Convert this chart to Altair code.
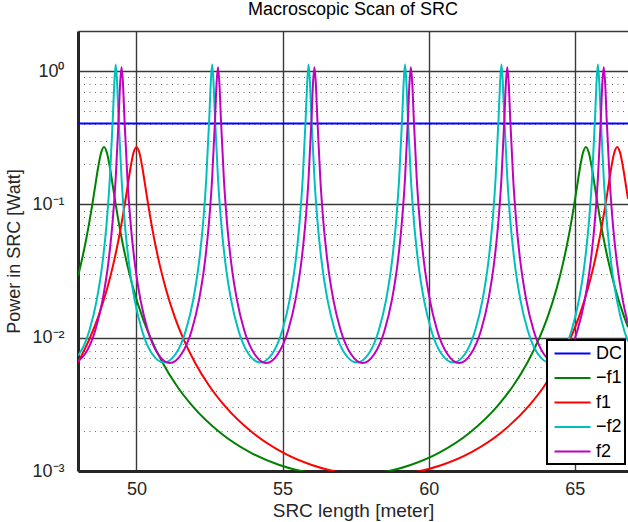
import altair as alt
import pandas as pd

# ---------------- data ----------------
series_names = ["DC", "\u2212f1", "f1", "\u2212f2", "f2"]
series_colors = ["#0000ff", "#008000", "#ff0000", "#00bfbf", "#bf00bf"]

dc_x = [48.00, 66.82]
dc_y = [0.405, 0.405]

mf1_x = [48.00, 48.09, 48.29, 48.49, 48.59, 48.69, 48.79, 48.89, 48.99, 49.09, 49.19, 49.29,
         49.49, 49.69, 49.89, 50.19, 50.49, 50.89, 51.39, 51.89, 52.89, 53.89, 54.89, 55.89,
         57.13, 58.38, 59.38, 60.38, 61.38, 62.38, 62.88, 63.38, 63.78, 64.08, 64.38, 64.58,
         64.78, 64.98, 65.08, 65.18, 65.28, 65.38, 65.48, 65.58, 65.68, 65.78, 65.98, 66.18,
         66.38, 66.68, 66.82]
mf1_y = [0.0289, 0.0349, 0.0562, 0.100, 0.138, 0.190, 0.244, 0.270, 0.244, 0.190, 0.138, 0.100,
         0.0562, 0.0349, 0.0235, 0.0145, 0.00987, 0.00651, 0.00432, 0.00312, 0.00192, 0.00138, 0.00111, 0.000973,
         0.000919, 0.000973, 0.00111, 0.00138, 0.00192, 0.00312, 0.00432, 0.00651, 0.00987, 0.0145, 0.0235, 0.0349,
         0.0562, 0.100, 0.138, 0.190, 0.244, 0.270, 0.244, 0.190, 0.138, 0.100, 0.0562, 0.0349,
         0.0235, 0.0145, 0.0120]

f1_x = [48.00, 48.40, 48.70, 49.00, 49.20, 49.40, 49.60, 49.70, 49.80, 49.90, 50.00, 50.10,
        50.20, 50.30, 50.40, 50.60, 50.80, 51.00, 51.30, 51.60, 52.00, 52.50, 53.00, 54.00,
        55.00, 56.00, 57.00, 58.22, 59.45, 60.45, 61.45, 62.45, 63.45, 63.95, 64.45, 64.85,
        65.15, 65.45, 65.65, 65.85, 66.05, 66.15, 66.25, 66.35, 66.45, 66.55, 66.65, 66.75, 66.82]
f1_y = [0.00651, 0.00987, 0.0145, 0.0235, 0.0349, 0.0562, 0.100, 0.138, 0.190, 0.244, 0.270, 0.244,
        0.190, 0.138, 0.100, 0.0562, 0.0349, 0.0235, 0.0145, 0.00987, 0.00651, 0.00432, 0.00312, 0.00192,
        0.00138, 0.00111, 0.000973, 0.000919, 0.000973, 0.00111, 0.00138, 0.00192, 0.00312, 0.00432, 0.00651, 0.00987,
        0.0145, 0.0235, 0.0349, 0.0562, 0.100, 0.138, 0.190, 0.244, 0.270, 0.244, 0.190, 0.138, 0.110]

mf2_x = [48.00,
         48.04, 48.39, 48.64, 48.84, 48.99, 49.09, 49.19, 49.24, 49.29, 49.34, 49.39, 49.49, 49.59, 49.74, 49.94, 50.19, 50.54, 50.94,
         51.34, 51.69, 51.94, 52.14, 52.29, 52.39, 52.49, 52.54, 52.59, 52.64, 52.69, 52.79, 52.89, 53.04, 53.24, 53.49, 53.84, 54.24,
         54.64, 54.99, 55.24, 55.44, 55.59, 55.69, 55.79, 55.84, 55.89, 55.94, 55.99, 56.09, 56.19, 56.34, 56.54, 56.79, 57.14, 57.54,
         57.94, 58.29, 58.54, 58.74, 58.89, 58.99, 59.09, 59.14, 59.19, 59.24, 59.29, 59.39, 59.49, 59.64, 59.84, 60.09, 60.44, 60.84,
         61.24, 61.59, 61.84, 62.04, 62.19, 62.29, 62.39, 62.44, 62.49, 62.54, 62.59, 62.69, 62.79, 62.94, 63.14, 63.39, 63.74, 64.14,
         64.54, 64.89, 65.14, 65.34, 65.49, 65.59, 65.69, 65.74, 65.79, 65.84, 65.89, 65.99, 66.09, 66.24, 66.44, 66.69, 66.82]
mf2_y = [0.00733,
         0.00754, 0.01134, 0.01912, 0.0367, 0.0768, 0.157, 0.437, 0.797, 1.12, 0.797, 0.437, 0.157, 0.0768, 0.0367, 0.01912, 0.01134, 0.00754, 0.00651,
         0.00754, 0.01134, 0.01912, 0.0367, 0.0768, 0.157, 0.437, 0.797, 1.12, 0.797, 0.437, 0.157, 0.0768, 0.0367, 0.01912, 0.01134, 0.00754, 0.00651,
         0.00754, 0.01134, 0.01912, 0.0367, 0.0768, 0.157, 0.437, 0.797, 1.12, 0.797, 0.437, 0.157, 0.0768, 0.0367, 0.01912, 0.01134, 0.00754, 0.00651,
         0.00754, 0.01134, 0.01912, 0.0367, 0.0768, 0.157, 0.437, 0.797, 1.12, 0.797, 0.437, 0.157, 0.0768, 0.0367, 0.01912, 0.01134, 0.00754, 0.00651,
         0.00754, 0.01134, 0.01912, 0.0367, 0.0768, 0.157, 0.437, 0.797, 1.12, 0.797, 0.437, 0.157, 0.0768, 0.0367, 0.01912, 0.01134, 0.00754, 0.00651,
         0.00754, 0.01134, 0.01912, 0.0367, 0.0768, 0.157, 0.437, 0.797, 1.12, 0.797, 0.437, 0.157, 0.0768, 0.0367, 0.01912, 0.01134, 0.0094]

f2_x = [48.00,
        48.24, 48.59, 48.84, 49.04, 49.19, 49.29, 49.39, 49.44, 49.49, 49.54, 49.59, 49.69, 49.79, 49.94, 50.14, 50.39, 50.74, 51.14,
        51.54, 51.89, 52.14, 52.34, 52.49, 52.59, 52.69, 52.74, 52.79, 52.84, 52.89, 52.99, 53.09, 53.24, 53.44, 53.69, 54.04, 54.44,
        54.84, 55.19, 55.44, 55.64, 55.79, 55.89, 55.99, 56.04, 56.09, 56.14, 56.19, 56.29, 56.39, 56.54, 56.74, 56.99, 57.34, 57.74,
        58.14, 58.49, 58.74, 58.94, 59.09, 59.19, 59.29, 59.34, 59.39, 59.44, 59.49, 59.59, 59.69, 59.84, 60.04, 60.29, 60.64, 61.04,
        61.44, 61.79, 62.04, 62.24, 62.39, 62.49, 62.59, 62.64, 62.69, 62.74, 62.79, 62.89, 62.99, 63.14, 63.34, 63.59, 63.94, 64.34,
        64.74, 65.09, 65.34, 65.54, 65.69, 65.79, 65.89, 65.94, 65.99, 66.04, 66.09, 66.19, 66.29, 66.44, 66.64, 66.82]
f2_y = [0.00666,
        0.00754, 0.01134, 0.01912, 0.0367, 0.0768, 0.157, 0.437, 0.797, 1.07, 0.797, 0.437, 0.157, 0.0768, 0.0367, 0.01912, 0.01134, 0.00754, 0.00645,
        0.00754, 0.01134, 0.01912, 0.0367, 0.0768, 0.157, 0.437, 0.797, 1.07, 0.797, 0.437, 0.157, 0.0768, 0.0367, 0.01912, 0.01134, 0.00754, 0.00645,
        0.00754, 0.01134, 0.01912, 0.0367, 0.0768, 0.157, 0.437, 0.797, 1.07, 0.797, 0.437, 0.157, 0.0768, 0.0367, 0.01912, 0.01134, 0.00754, 0.00645,
        0.00754, 0.01134, 0.01912, 0.0367, 0.0768, 0.157, 0.437, 0.797, 1.07, 0.797, 0.437, 0.157, 0.0768, 0.0367, 0.01912, 0.01134, 0.00754, 0.00645,
        0.00754, 0.01134, 0.01912, 0.0367, 0.0768, 0.157, 0.437, 0.797, 1.07, 0.797, 0.437, 0.157, 0.0768, 0.0367, 0.01912, 0.01134, 0.00754, 0.00645,
        0.00754, 0.01134, 0.01912, 0.0367, 0.0768, 0.157, 0.437, 0.797, 1.07, 0.797, 0.437, 0.157, 0.0768, 0.0367, 0.01912, 0.0128]

x_ticks = [50, 55, 60, 65]
y_major = [0.001, 0.01, 0.1, 1, 2]
y_minor = [0.002, 0.003, 0.004, 0.005, 0.006, 0.007, 0.008, 0.009,
           0.02, 0.03, 0.04, 0.05, 0.06, 0.07, 0.08, 0.09,
           0.2, 0.3, 0.4, 0.5, 0.6, 0.7, 0.8, 0.9]

# ---------------- table ----------------
rows = []
for name, xs, ys in zip(series_names,
                        [dc_x, mf1_x, f1_x, mf2_x, f2_x],
                        [dc_y, mf1_y, f1_y, mf2_y, f2_y]):
    for i, (xv, yv) in enumerate(zip(xs, ys)):
        rows.append({"series": name, "x": xv, "y": yv, "i": i})
df = pd.DataFrame(rows)

FONT = "Liberation Sans"
TXT = "#262626"
major_test = "datum.value == 0.001 || datum.value == 0.01 || datum.value == 0.1 || datum.value == 1 || datum.value == 2"

y_axis = alt.Axis(
    values=sorted(y_major + y_minor),
    labelExpr="datum.value == 1 ? '10\u2070' : datum.value == 0.1 ? '10\u207b\u00b9' : "
              "datum.value == 0.01 ? '10\u207b\u00b2' : datum.value == 0.001 ? '10\u207b\u00b3' : ''",
    title="Power in SRC [Watt]",
    grid=True,
    gridColor={"condition": {"test": major_test, "value": "#3a3a3a"}, "value": "#707070"},
    gridDash={"condition": {"test": major_test, "value": []}, "value": [1, 4.5]},
    gridWidth={"condition": {"test": major_test, "value": 1.6}, "value": 1},
    ticks=False,
    domainColor=TXT, domainWidth=3,
    labelFont=FONT, labelFontSize=18, labelColor=TXT, labelPadding=14,
    labelOverlap=False, labelBound=False, labelFlush=False,
    titleFont=FONT, titleFontSize=18, titleColor=TXT, titleFontWeight="normal", titlePadding=8,
)

x_axis = alt.Axis(
    values=x_ticks, title="SRC length [meter]", grid=True,
    gridColor="#3a3a3a", gridWidth=1.4, ticks=False,
    domainColor=TXT, domainWidth=3,
    labelFont=FONT, labelFontSize=18, labelColor=TXT, labelPadding=9, labelFlush=False,
    titleFont=FONT, titleFontSize=19, titleColor=TXT, titleFontWeight="normal", titlePadding=3,
)

chart = alt.Chart(df).mark_line(strokeWidth=2, clip=True, interpolate="monotone").encode(
    x=alt.X("x:Q", scale=alt.Scale(domain=[48, 66.82], nice=False, zero=False), axis=x_axis),
    y=alt.Y("y:Q", scale=alt.Scale(type="log", domain=[0.001, 2], nice=False), axis=y_axis),
    color=alt.Color("series:N", sort=series_names,
                    scale=alt.Scale(domain=series_names, range=series_colors),
                    legend=alt.Legend(title=None, orient="none", legendX=469, legendY=309,
                                      symbolType="M-2,0H2", symbolSize=324, symbolStrokeWidth=2.2,
                                      symbolOffset=12, labelOffset=13,
                                      labelFont=FONT, labelFontSize=18, labelColor="black",
                                      fillColor="white", strokeColor="black",
                                      padding=3, rowPadding=4.5)),
    order="i:Q",
).properties(
    width=550, height=440,
    title=alt.TitleParams("Macroscopic Scan of SRC", font=FONT, fontSize=18, fontWeight="normal",
                          color="black", anchor="middle", baseline="alphabetic",
                          offset=2, dy=13),
    autosize=alt.AutoSizeParams(type="none"),
    padding={"left": 78, "top": 31, "right": 0, "bottom": 51},
).configure_view(stroke=None).configure_legend(strokeWidth=2)

chart.save("out.html", embed_options={"renderer": "svg", "actions": False})
